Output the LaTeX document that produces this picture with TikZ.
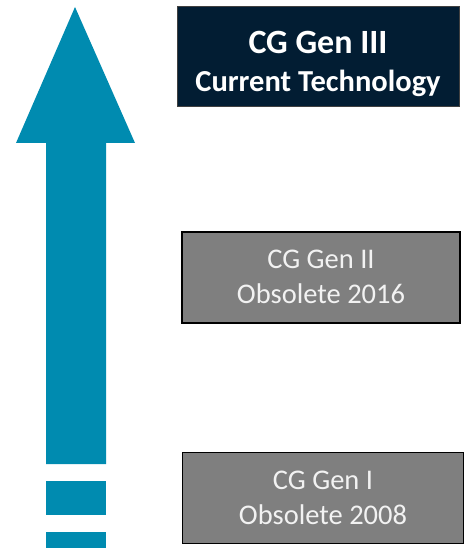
\documentclass[tikz,border=0pt]{standalone}
\usepackage{fontspec}
\setmainfont{Carlito}
\usetikzlibrary{positioning}
\definecolor{flecha}{RGB}{0,139,176}
\definecolor{marino}{RGB}{2,29,51}
\definecolor{gris}{RGB}{127,127,127}
\tikzset{
	actual/.style={rectangle, fill=marino, draw=black!75, line width=1pt,
		text=white, font=\bfseries\fontsize{30.5}{38}\selectfont, minimum width=282pt,
		minimum height=100pt, align=center, inner sep=0pt},
	obsoleto/.style={rectangle, fill=gris, draw=black, line width=1.6pt,
		text=black!5, font=\fontsize{28.5}{35}\selectfont, minimum width=278pt,
		minimum height=91pt, align=center, inner sep=0pt},
	tramo/.style={fill=flecha, draw=none}
}

\begin{document}
\begin{tikzpicture}[x=1pt, y=-1pt, node distance=124pt]
			\useasboundingbox (0,0) rectangle (466,548);
			
			% flecha
			\fill[tramo] (75,7) -- (135,143) -- (106,143) -- (106,464)
				-- (46,464) -- (46,143) -- (16,143) -- cycle;
			\fill[tramo] (46,481) rectangle (106,515);
			\fill[tramo] (46,532) rectangle (106,548);
			
			% generaciones
			\node[actual] (gen3) at (318,56.5) {\rule{0pt}{38pt}{\fontsize{34}{38}\selectfont CG Gen III}\\
				Current Technology};
			\node[obsoleto, below=124pt of gen3, xshift=3pt] (gen2) {CG Gen II\\
				Obsolete 2016};
			\node[obsoleto, below=128pt of gen2, xshift=2pt, minimum width=281pt] (gen1) {CG Gen I\\
				Obsolete 2008};
		\end{tikzpicture}
\end{document}
